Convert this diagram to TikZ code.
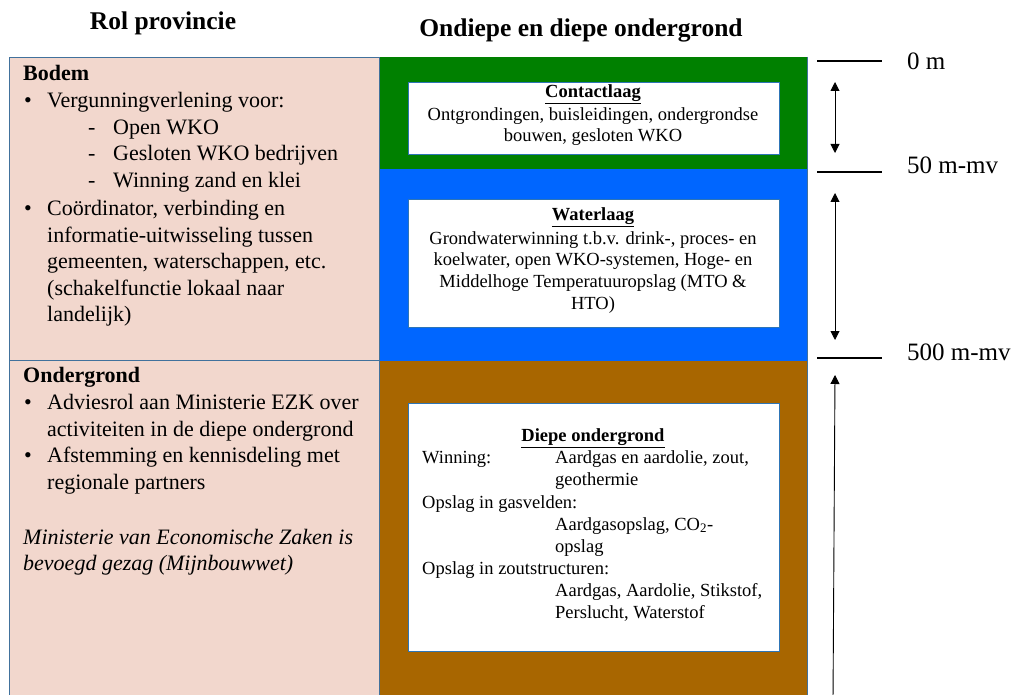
\documentclass[tikz,border=0pt]{standalone}
\usepackage{fontspec}
\setmainfont{Liberation Serif}
\usetikzlibrary{arrows.meta}
\definecolor{pinkfill}{RGB}{242,215,205}
\definecolor{edgeblue}{RGB}{65,113,156}
\definecolor{grn}{RGB}{0,128,0}
\definecolor{blu}{RGB}{0,102,255}
\definecolor{brn}{RGB}{168,102,0}
\definecolor{boxedge}{RGB}{46,117,182}
\tikzset{
  big/.style={font=\fontsize{22}{26}\selectfont, inner sep=0pt, anchor=mid west},
  small/.style={font=\fontsize{18.5}{22}\selectfont, inner sep=0pt},
  title/.style={font=\fontsize{25.5}{30}\selectfont\bfseries, inner sep=0pt},
  whitebox/.style={draw=boxedge, line width=0.8pt, fill=white},
  scaleline/.style={line width=1.8pt},
  dimarrow/.style={line width=0.9pt, {Triangle[width=9pt,length=9pt]}-{Triangle[width=9pt,length=9pt]}},
  uparrow/.style={line width=0.9pt, -{Triangle[width=9pt,length=9pt]}},
  lbl/.style={font=\fontsize{25}{30}\selectfont, inner sep=0pt, anchor=mid west}
}
\begin{document}
\begin{tikzpicture}[x=1pt,y=-1pt]
\useasboundingbox (0,0) rectangle (1014,695);
\clip (0,0) rectangle (1014,695);
% titles
\node[title] (t1) at (163,23) {Rol provincie};
\node[title] (t2) at (581,30) {Ondiepe en diepe ondergrond};
% left panels
\draw[edgeblue, fill=pinkfill, line width=0.8pt] (9,57) rectangle (379,360);
\draw[edgeblue, fill=pinkfill, line width=0.8pt] (9,360) rectangle (379,710);
% layers
\fill[grn] (380,57) rectangle (807,169);
\fill[blu] (380,169) rectangle (807,361);
\fill[brn] (380,361) rectangle (807,710);
\draw[edgeblue, line width=0.6pt] (807,57) -- (807,710);
% left text Bodem
\node[big, font=\fontsize{22}{26}\selectfont\bfseries] (b0) at (23,78) {Bodem};
\node[big] (b1a) at (24,105) {•};
\node[big] (b1) at (47,105) {Vergunningverlening voor:};
\node[big] (b2a) at (88,132) {-};
\node[big] (b2) at (113,132) {Open WKO};
\node[big] (b3a) at (88,158) {-};
\node[big] (b3) at (113,158) {Gesloten WKO bedrijven};
\node[big] (b4a) at (88,185) {-};
\node[big] (b4) at (113,185) {Winning zand en klei};
\node[big] (b5a) at (24,213) {•};
\node[big] (b5) at (47,213) {Coördinator, verbinding en};
\node[big] (b6) at (47,240) {informatie-uitwisseling tussen};
\node[big] (b7) at (47,266) {gemeenten, waterschappen, etc.};
\node[big] (b8) at (47,293) {(schakelfunctie lokaal naar};
\node[big] (b9) at (47,319) {landelijk)};
% left text Ondergrond
\node[big, font=\fontsize{22}{26}\selectfont\bfseries] (o0) at (23,380) {Ondergrond};
\node[big] (o1a) at (24,407) {•};
\node[big] (o1) at (47,407) {Adviesrol aan Ministerie EZK over};
\node[big] (o2) at (47,434) {activiteiten in de diepe ondergrond};
\node[big] (o3a) at (24,460) {•};
\node[big] (o3) at (47,460) {Afstemming en kennisdeling met};
\node[big] (o4) at (47,487) {regionale partners};
\node[big, font=\fontsize{22}{26}\selectfont\itshape] (o5) at (23,542) {Ministerie van Economische Zaken is};
\node[big, font=\fontsize{22}{26}\selectfont\itshape] (o6) at (23,568) {bevoegd gezag (Mijnbouwwet)};
% white boxes
\draw[whitebox] (408,82) rectangle (779,154);
\draw[whitebox] (408,199) rectangle (779,327);
\draw[whitebox] (408,403) rectangle (779,651);
% contactlaag
\node[small, anchor=mid, font=\fontsize{18.5}{22}\selectfont\bfseries] (c0) at (593,95) {\underline{Contactlaag}};
\node[small, anchor=mid] (c1) at (593,118) {Ontgrondingen, buisleidingen, ondergrondse};
\node[small, anchor=mid] (c2) at (593,139) {bouwen, gesloten WKO};
% waterlaag
\node[small, anchor=mid, font=\fontsize{18.5}{22}\selectfont\bfseries] (w0) at (593,218) {\underline{Waterlaag}};
\node[small, anchor=mid] (w1) at (593,242) {Grondwaterwinning t.b.v. drink-, proces- en};
\node[small, anchor=mid] (w2) at (593,263) {koelwater, open WKO-systemen, Hoge- en};
\node[small, anchor=mid] (w3) at (593,285) {Middelhoge Temperatuuropslag (MTO \&};
\node[small, anchor=mid] (w4) at (593,307) {HTO)};
% diepe ondergrond
\node[small, anchor=mid, font=\fontsize{18.5}{22}\selectfont\bfseries] (d0) at (593,439) {\underline{Diepe ondergrond}};
\node[small, anchor=mid west] (d1) at (422,461) {Winning:};
\node[small, anchor=mid west] (d1b) at (555,461) {Aardgas en aardolie, zout,};
\node[small, anchor=mid west] (d2) at (555,483) {geothermie};
\node[small, anchor=mid west] (d3) at (422,506) {Opslag in gasvelden:};
\node[small, anchor=mid west] (d4) at (555,528) {Aardgasopslag, CO\textsubscript{2}-};
\node[small, anchor=mid west] (d5) at (555,550) {opslag};
\node[small, anchor=mid west] (d6) at (422,572) {Opslag in zoutstructuren:};
\node[small, anchor=mid west] (d7) at (555,594) {Aardgas, Aardolie, Stikstof,};
\node[small, anchor=mid west] (d8) at (555,616) {Perslucht, Waterstof};
% scale
\coordinate (s0l) at (817,61); \coordinate (s0r) at (882,61);
\coordinate (s1l) at (817,172); \coordinate (s1r) at (882,172);
\coordinate (s2l) at (817,358); \coordinate (s2r) at (882,358);
\draw[scaleline] (s0l) -- (s0r);
\draw[scaleline] (s1l) -- (s1r);
\draw[scaleline] (s2l) -- (s2r);
\node[lbl] (l0) at (907,67) {0 m};
\node[lbl] (l1) at (907,171) {50 m-mv};
\node[lbl] (l2) at (907,358) {500 m-mv};
\coordinate (a1t) at (835,82); \coordinate (a1b) at (835,153);
\coordinate (a2t) at (835,193); \coordinate (a2b) at (835,340);
\coordinate (a3t) at (835,375); \coordinate (a3b) at (833,700);
\draw[dimarrow] (a1t) -- (a1b);
\draw[dimarrow] (a2t) -- (a2b);
\draw[uparrow] (a3b) -- (a3t);
\end{tikzpicture}
\end{document}
